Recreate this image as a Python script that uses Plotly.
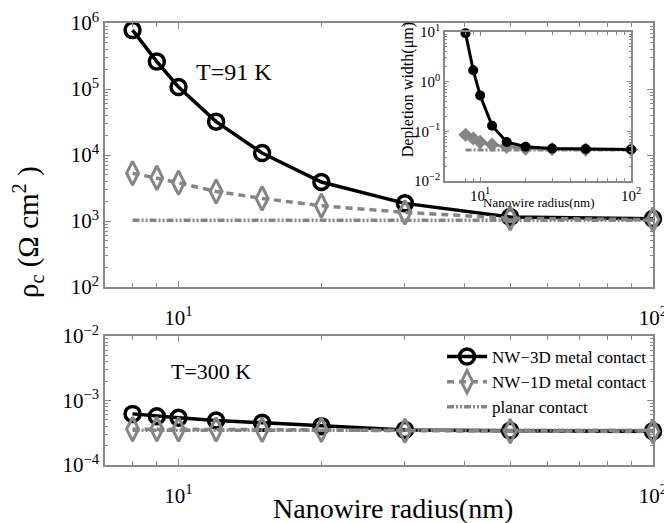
import plotly.graph_objects as go

radius = [8, 9, 10, 12, 15, 20, 30, 50, 100]

# T = 91 K (top panel)
nw3d_91 = [7.8e5, 2.6e5, 1.07e5, 3.2e4, 1.07e4, 3.9e3, 1.85e3, 1.15e3, 1.08e3]
nw1d_91 = [5.3e3, 4.5e3, 3.8e3, 2.8e3, 2.2e3, 1.7e3, 1.35e3, 1.1e3, 1.05e3]
planar_91 = [1.03e3] * 9

# T = 300 K (bottom panel)
nw3d_300 = [6.2e-4, 5.7e-4, 5.4e-4, 4.9e-4, 4.5e-4, 4.0e-4, 3.5e-4, 3.4e-4, 3.35e-4]
nw1d_300 = [3.6e-4, 3.6e-4, 3.55e-4, 3.55e-4, 3.5e-4, 3.5e-4, 3.4e-4, 3.35e-4, 3.3e-4]
planar_300 = [3.45e-4] * 9

# Inset: depletion width (um)
dep_3d = [9.5, 1.7, 0.53, 0.13, 0.061, 0.049, 0.045, 0.044, 0.043]
dep_1d = [0.085, 0.072, 0.061, 0.054, 0.049, 0.045, 0.044, 0.043, 0.043]
dep_planar = [0.042] * 9

FONT = "Liberation Serif"
BLACK = "#000000"
GRAY = "#858585"
FRAME = "#888888"

fig = go.Figure()

def add_set(x, y3, y1, yp, xa, ya, show):
    fig.add_trace(go.Scatter(x=x, y=y3, mode="lines+markers", name="NW\u22123D metal contact",
                             line=dict(color=BLACK, width=3.5),
                             marker=dict(symbol="circle-open", size=15, color=BLACK, line=dict(width=3.5)),
                             xaxis=xa, yaxis=ya, showlegend=show, cliponaxis=False))
    fig.add_trace(go.Scatter(x=x, y=y1, mode="lines+markers", name="NW\u22121D metal contact",
                             line=dict(color=GRAY, width=3.5, dash="7px,5px"),
                             marker=dict(symbol="diamond-tall-open", size=17, color=GRAY, line=dict(width=3)),
                             xaxis=xa, yaxis=ya, showlegend=show, cliponaxis=False))
    fig.add_trace(go.Scatter(x=x, y=yp, mode="lines", name="planar contact",
                             line=dict(color=GRAY, width=3.5, dash="7px,2px,2px,2px,2px,2px"),
                             xaxis=xa, yaxis=ya, showlegend=show, cliponaxis=False))

add_set(radius, nw3d_91, nw1d_91, planar_91, "x", "y", False)
add_set(radius, nw3d_300, nw1d_300, planar_300, "x2", "y2", True)

# inset
fig.add_trace(go.Scatter(x=radius, y=dep_planar, mode="lines", line=dict(color=GRAY, width=3, dash="6px,2px,2px,2px"),
                         xaxis="x3", yaxis="y3", showlegend=False))
fig.add_trace(go.Scatter(x=radius, y=dep_1d, mode="lines+markers", line=dict(color=GRAY, width=3),
                         marker=dict(symbol="diamond", size=11, color=GRAY),
                         xaxis="x3", yaxis="y3", showlegend=False, cliponaxis=False))
fig.add_trace(go.Scatter(x=radius, y=dep_3d, mode="lines+markers", line=dict(color=BLACK, width=3),
                         marker=dict(symbol="circle", size=10, color=BLACK),
                         xaxis="x3", yaxis="y3", showlegend=False, cliponaxis=False))

def sup(e):
    return "10<sup>%s</sup>" % (str(e).replace("-", "\u2212"))

x_minor = [8, 9, 20, 30, 40, 50, 60, 70, 80, 90]

def decade_minor(lo, hi):
    out = []
    for e in range(lo, hi):
        for m in range(2, 10):
            out.append(m * 10.0 ** e)
    return out

axis_common = dict(type="log", showline=True, linecolor=FRAME, linewidth=1.5, mirror="allticks",
                   ticks="inside", ticklen=6, tickcolor=FRAME, tickwidth=1, showgrid=False, zeroline=False,
                   automargin=False, ticklabeloverflow="allow",
                   tickfont=dict(family=FONT, size=21, color=BLACK))
inset_font = dict(family=FONT, size=15, color=BLACK)

fig.update_layout(
    width=664, height=523,
    margin=dict(l=105, r=11, t=23, b=58),
    paper_bgcolor="white", plot_bgcolor="white",
    font=dict(family=FONT, color=BLACK),
    xaxis=dict(domain=[0, 1], anchor="y", range=[0.845, 2.0], tickvals=[10, 100], ticktext=[sup(1), sup(2)],
               ticklabelstandoff=11,
               minor=dict(tickvals=x_minor, ticks="inside", ticklen=4, tickcolor=FRAME), **axis_common),
    yaxis=dict(domain=[0.4027, 1.0], anchor="x", range=[2, 6], tickvals=[1e2, 1e3, 1e4, 1e5, 1e6],
               ticktext=[sup(e) for e in range(2, 7)],
               minor=dict(tickvals=decade_minor(2, 6), ticks="inside", ticklen=3, tickcolor=FRAME), **axis_common),
    xaxis2=dict(domain=[0, 1], anchor="y2", range=[0.845, 2.0], tickvals=[10, 100], ticktext=[sup(1), sup(2)],
                ticklabelstandoff=11,
                minor=dict(tickvals=x_minor, ticks="inside", ticklen=4, tickcolor=FRAME), **axis_common),
    yaxis2=dict(domain=[0, 0.2919], anchor="x2", range=[-4, -2], tickvals=[1e-4, 1e-3, 1e-2],
                ticktext=[sup(-4), sup(-3), sup(-2)],
                minor=dict(tickvals=decade_minor(-4, -2), ticks="inside", ticklen=3, tickcolor=FRAME), **axis_common),
    xaxis3=dict(domain=[0.6204, 0.9599], anchor="y3", range=[0.767, 2.0], tickvals=[10, 100],
                ticktext=[sup(1), sup(2)],
                minor=dict(tickvals=x_minor, ticks="inside", ticklen=3, tickcolor=FRAME),
                **{**axis_common, "tickfont": inset_font, "ticklen": 4}),
    yaxis3=dict(domain=[0.6425, 0.9796], anchor="x3", range=[-2, 1], tickvals=[1e-2, 1e-1, 1, 10],
                ticktext=[sup(-2), sup(-1), sup(0), sup(1)],
                minor=dict(tickvals=decade_minor(-2, 1), ticks="inside", ticklen=2, tickcolor=FRAME),
                **{**axis_common, "tickfont": inset_font, "ticklen": 4}),
    legend=dict(x=0.615, y=0.285, xanchor="left", yanchor="top", bgcolor="rgba(0,0,0,0)",
                font=dict(family=FONT, size=17, color=BLACK), tracegroupgap=0, itemwidth=40),
)

fig.add_annotation(text="T=91 K", xref="paper", yref="paper", x=0.162, y=0.89, xanchor="left", yanchor="middle",
                   showarrow=False, font=dict(family=FONT, size=24, color=BLACK))
fig.add_annotation(text="T=300 K", xref="paper", yref="paper", x=0.117, y=0.2115, xanchor="left", yanchor="middle",
                   showarrow=False, font=dict(family=FONT, size=22, color=BLACK))
fig.add_annotation(text="Nanowire radius(nm)", xref="paper", yref="paper", x=0.525, y=-0.098,
                   xanchor="center", yanchor="middle",
                   showarrow=False, font=dict(family=FONT, size=28, color=BLACK))
fig.add_annotation(text="\u03c1<sub>c</sub> (\u03a9 cm<sup>2</sup> )", xref="paper", yref="paper",
                   x=-0.1405, y=0.527, xanchor="center", yanchor="middle", textangle=-90, showarrow=False,
                   font=dict(family=FONT, size=29, color=BLACK))
fig.add_annotation(text="Nanowire radius(nm)", xref="paper", yref="paper", x=0.792, y=0.595,
                   xanchor="center", yanchor="middle",
                   showarrow=False, font=dict(family=FONT, size=13, color=BLACK))
fig.add_annotation(text="Depletion width(\u03bcm)", xref="paper", yref="paper", x=0.553, y=0.848,
                   xanchor="center", yanchor="middle",
                   textangle=-90, showarrow=False, font=dict(family=FONT, size=16, color=BLACK))

fig.write_html("out.html", config={"displayModeBar": False},
               post_script="document.body.style.margin='0';document.body.style.padding='0';")
